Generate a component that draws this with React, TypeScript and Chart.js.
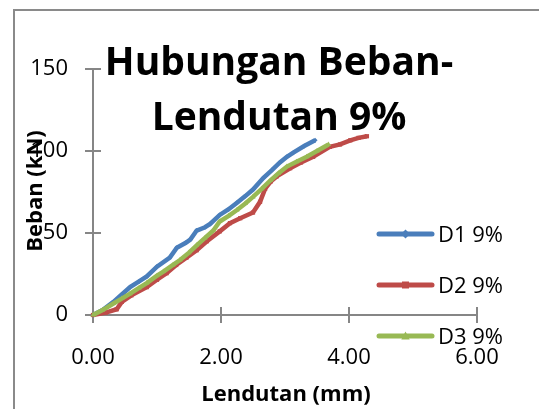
import { useEffect, useRef } from "react";
import { Chart, registerables } from "chart.js";

Chart.register(...registerables);

// ---- data ----
const seriesLabels = ["D1 9%", "D2 9%", "D3 9%"];
const seriesColors = ["#4A7EBB", "#BE4B48", "#98B954"];
const seriesPointStyles = ["rectRot", "rect", "triangle"];
const seriesPointRadius = [2.5, 3, 3];

const d1X = [0, 0.15, 0.32, 0.45, 0.58, 0.72, 0.84, 1.0, 1.2, 1.31, 1.45, 1.52, 1.62, 1.75, 1.83, 1.98, 2.12, 2.25, 2.38, 2.5, 2.66, 2.8, 2.92, 3.03, 3.13, 3.3, 3.47];
const d1Y = [0, 3, 8, 12.5, 17, 20.5, 23.5, 29.5, 35, 41, 44, 46, 51.5, 53.5, 55.5, 61, 64.5, 68.5, 72.5, 76.5, 83.5, 88.5, 93, 96.5, 99, 103, 106.5];

const d2X = [0, 0.2, 0.37, 0.45, 0.6, 0.84, 1.0, 1.15, 1.3, 1.46, 1.62, 1.78, 1.98, 2.14, 2.3, 2.5, 2.61, 2.69, 2.78, 2.87, 3.08, 3.25, 3.44, 3.7, 3.86, 4.02, 4.15, 4.28];
const d2Y = [0, 1.5, 3.5, 8, 12, 17, 21.5, 25.5, 30.5, 35, 39.5, 45, 51, 56, 59, 62.5, 69, 77, 81.5, 84.5, 89.5, 93, 96.5, 102.5, 104, 106.5, 108, 109];

const d3X = [0, 0.15, 0.32, 0.45, 0.58, 0.72, 0.84, 1.0, 1.1, 1.25, 1.36, 1.5, 1.62, 1.75, 1.88, 1.98, 2.12, 2.25, 2.38, 2.5, 2.64, 2.77, 2.9, 3.03, 3.18, 3.34, 3.5, 3.68];
const d3Y = [0, 3, 7, 10, 13, 16.5, 19.5, 24, 26.5, 30.5, 33.5, 38, 42.5, 47, 51.5, 57, 60.5, 64, 68, 72, 77, 82, 86.5, 90.5, 93.5, 96.5, 100, 104];

const xMin = 0, xMax = 6, xStep = 2;
const yMin = 0, yMax = 150, yStep = 50;

const titleLines = ["Hubungan Beban-", "Lendutan 9%"];
const xTitle = "Lendutan (mm)";
const yTitle = "Beban (kN)";

const FONT = "'Open Sans', 'DejaVu Sans', sans-serif";
const AXIS_GRAY = "#868686";

function pairs(xs: number[], ys: number[]) {
  return xs.map((x, i) => ({ x, y: ys[i] }));
}

function drawMarker(ctx: CanvasRenderingContext2D, style: string, x: number, y: number, r: number) {
  ctx.beginPath();
  if (style === "rect") {
    ctx.rect(x - r, y - r, 2 * r, 2 * r);
  } else if (style === "rectRot") {
    ctx.moveTo(x, y - r * 1.3);
    ctx.lineTo(x + r * 1.3, y);
    ctx.lineTo(x, y + r * 1.3);
    ctx.lineTo(x - r * 1.3, y);
    ctx.closePath();
  } else {
    ctx.moveTo(x, y - r * 1.3);
    ctx.lineTo(x + r * 1.2, y + r);
    ctx.lineTo(x - r * 1.2, y + r);
    ctx.closePath();
  }
  ctx.fill();
}

const tickMarks = {
  id: "tickMarks",
  beforeDatasetsDraw(chart: any) {
    const ctx = chart.ctx as CanvasRenderingContext2D;
    const xs = chart.scales.x;
    const ys = chart.scales.y;
    ctx.save();
    ctx.strokeStyle = AXIS_GRAY;
    ctx.lineWidth = 2;
    xs.ticks.forEach((t: any) => {
      const px = Math.round(xs.getPixelForValue(t.value));
      ctx.beginPath();
      ctx.moveTo(px, ys.bottom - 8);
      ctx.lineTo(px, ys.bottom + 8);
      ctx.stroke();
    });
    ys.ticks.forEach((t: any) => {
      const py = Math.round(ys.getPixelForValue(t.value));
      ctx.beginPath();
      ctx.moveTo(xs.left - 8, py);
      ctx.lineTo(xs.left + 8, py);
      ctx.stroke();
    });
    ctx.restore();
  },
};

const overlay = {
  id: "overlay",
  afterDraw(chart: any) {
    const ctx = chart.ctx as CanvasRenderingContext2D;
    const area = chart.chartArea;
    ctx.save();

    // outer frame
    ctx.strokeStyle = "#8a8a8a";
    ctx.lineWidth = 2;
    ctx.strokeRect(14, 10, 800, 800);

    // title
    ctx.fillStyle = "#000";
    ctx.font = `bold 39px ${FONT}`;
    ctx.textAlign = "center";
    ctx.textBaseline = "alphabetic";
    ctx.fillText(titleLines[0], 279, 75);
    ctx.fillText(titleLines[1], 279, 130);

    // x title
    ctx.font = `bold 22px ${FONT}`;
    ctx.fillText(xTitle, (area.left + area.right) / 2 + 1, 401);

    // y title
    ctx.save();
    ctx.translate(42, 191);
    ctx.rotate(-Math.PI / 2);
    ctx.fillText(yTitle, 0, 0);
    ctx.restore();

    // legend
    const ys = [234, 285, 336];
    chart.data.datasets.forEach((ds: any, i: number) => {
      const y = ys[i];
      ctx.strokeStyle = ds.borderColor;
      ctx.lineWidth = 5;
      ctx.lineCap = "round";
      ctx.beginPath();
      ctx.moveTo(379, y);
      ctx.lineTo(432, y);
      ctx.stroke();
      ctx.fillStyle = ds.borderColor;
      drawMarker(ctx, seriesPointStyles[i], 405.5, y, 3.5);
      ctx.fillStyle = "#000";
      ctx.font = `22px ${FONT}`;
      ctx.textAlign = "left";
      ctx.textBaseline = "alphabetic";
      ctx.fillText(ds.label, 438, y + 8);
    });
    ctx.restore();
  },
};

export default function App() {
  const ref = useRef<HTMLCanvasElement | null>(null);

  useEffect(() => {
    if (!ref.current) return;
    const series = [pairs(d1X, d1Y), pairs(d2X, d2Y), pairs(d3X, d3Y)];
    const chart = new Chart(ref.current, {
      type: "line",
      data: {
        datasets: series.map((data, i) => ({
          label: seriesLabels[i],
          data,
          borderColor: seriesColors[i],
          backgroundColor: seriesColors[i],
          borderWidth: 4.5,
          pointStyle: seriesPointStyles[i] as any,
          pointRadius: seriesPointRadius[i],
          pointBorderWidth: 0,
          pointBackgroundColor: seriesColors[i],
          tension: 0,
          fill: false,
          clip: 10,
          order: 2 - i,
        })),
      },
      options: {
        responsive: false,
        animation: false,
        layout: { padding: { left: 0, top: 69, right: 62, bottom: 0 } },
        plugins: {
          legend: { display: false },
          tooltip: { enabled: false },
          title: { display: false },
        },
        scales: {
          x: {
            type: "linear",
            min: xMin,
            max: xMax,
            ticks: {
              stepSize: xStep,
              callback: (v: any) => Number(v).toFixed(2),
              font: { family: FONT, size: 22 },
              color: "#000",
              padding: 30,
              maxRotation: 0,
              autoSkip: false,
            },
            grid: { display: false, drawTicks: false },
            border: { display: true, color: AXIS_GRAY, width: 2 },
            afterFit: (s: any) => {
              s.height = 94;
            },
          },
          y: {
            type: "linear",
            min: yMin,
            max: yMax,
            ticks: {
              stepSize: yStep,
              font: { family: FONT, size: 22 },
              color: "#000",
              padding: 25,
            },
            grid: { display: false, drawTicks: false },
            border: { display: true, color: AXIS_GRAY, width: 2 },
            afterFit: (s: any) => {
              s.width = 93;
            },
          },
        },
      },
      plugins: [tickMarks, overlay],
    });
    return () => chart.destroy();
  }, []);

  return (
    <div style={{ position: "fixed", left: 0, top: 0, width: 539, height: 409, background: "#fff" }}>
      <canvas ref={ref} width={539} height={409} style={{ display: "block" }} />
    </div>
  );
}
